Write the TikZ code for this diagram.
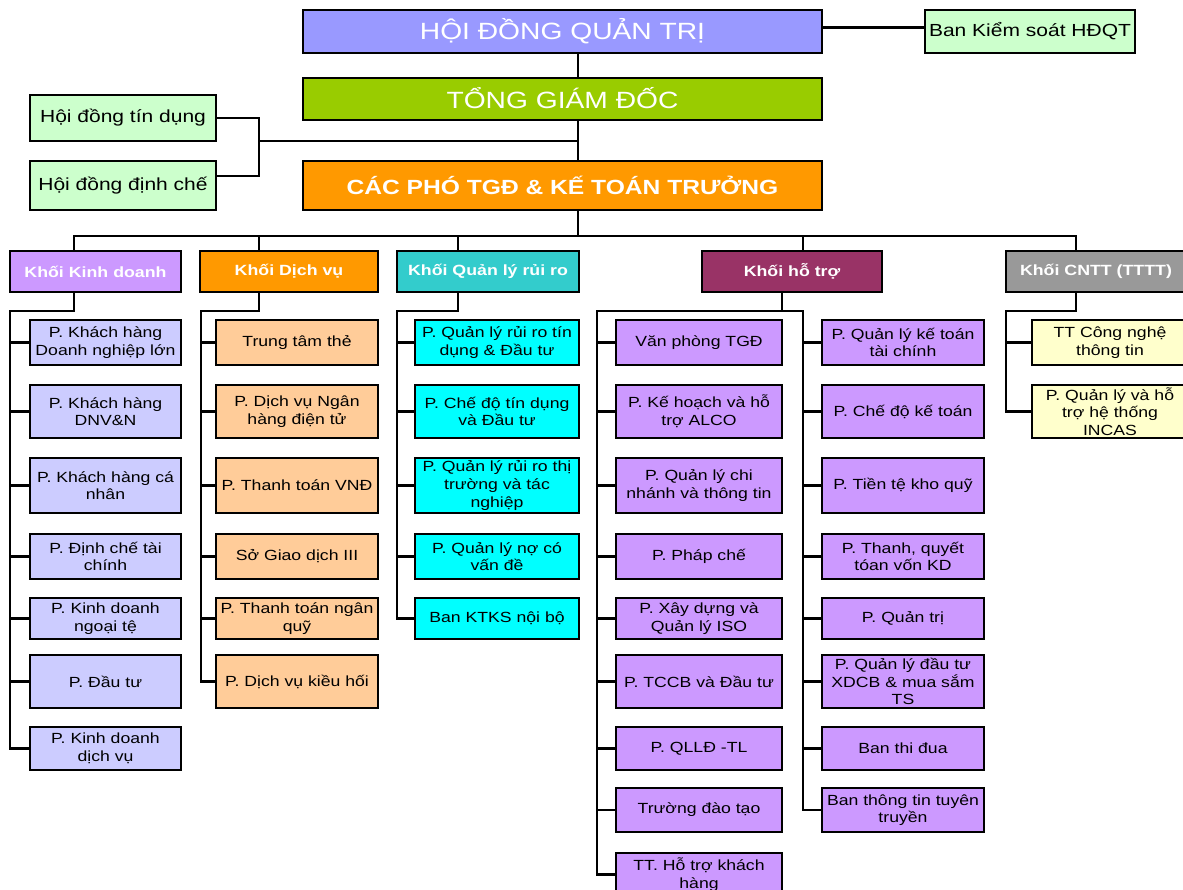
\documentclass[tikz,border=0pt]{standalone}
\usepackage{fontspec}
\setmainfont{Liberation Sans}[FakeStretch=1.2]
\usetikzlibrary{calc}

\definecolor{cHDQT}{HTML}{9999FF}
\definecolor{cTGD}{HTML}{99CC00}
\definecolor{cPTGD}{HTML}{FF9900}
\definecolor{sidegreen}{HTML}{CCFFCC}
\definecolor{kdHead}{HTML}{CC99FF}
\definecolor{kdKid}{HTML}{CCCCFF}
\definecolor{dvHead}{HTML}{FF9900}
\definecolor{dvKid}{HTML}{FFCC99}
\definecolor{rrHead}{HTML}{33CCCC}
\definecolor{rrKid}{HTML}{00FFFF}
\definecolor{htHead}{HTML}{993366}
\definecolor{htKid}{HTML}{CC99FF}
\definecolor{itHead}{HTML}{999999}
\definecolor{itKid}{HTML}{FFFFCC}

\tikzset{
  frame/.style={draw=black, line width=2.8pt, inner sep=0pt, align=center, text=black},
  link/.style={line width=2.7pt},
  topbox/.style={frame, text=white, font=\fontsize{23.5}{28}\selectfont},
  head/.style={frame, text=white, font=\bfseries\fontsize{14.8}{17.6}\selectfont},
  unit/.style={frame, font=\fontsize{14.7}{17.6}\selectfont},
  side/.style={frame, fill=sidegreen, font=\fontsize{17.5}{21}\selectfont},
}

% box from corner (x1,y1) to (x2,y2), in pixel units, y downwards
\newcommand{\boxat}[7]{%
  \node[#1, minimum width={#5-#3}, minimum height={#6-#4}] (#2)
    at ({(#3+#5)/2},{(#4+#6)/2}) {#7};}

\begin{document}
\begin{tikzpicture}[x=1pt, y=-1pt]
\useasboundingbox (0,0) rectangle (1183,890);
\fill[white] (0,0) rectangle (1183,890);
\clip (0,0) rectangle (1183,890);

% ---- top management ----
\boxat{topbox, fill=cHDQT}{hdqt}{303}{10}{822}{53}{HỘI ĐỒNG QUẢN TRỊ}
\boxat{side}{bks}{925}{10}{1135}{53}{Ban Kiểm soát HĐQT}
\boxat{topbox, fill=cTGD}{tgd}{303}{78}{822}{120}{\raisebox{2pt}{TỔNG GIÁM ĐỐC}}
\boxat{side}{hdtd}{30}{95}{216}{141}{Hội đồng tín dụng}
\boxat{side}{hddc}{30}{161}{216}{210}{Hội đồng định chế}
\boxat{topbox, fill=cPTGD, font=\bfseries\fontsize{20.5}{24}\selectfont}{pho}{303}{161}{822}{210}{CÁC PHÓ TGĐ \& KẾ TOÁN TRƯỞNG}

% ---- division headers ----
\boxat{head, fill=kdHead}{hKD}{10}{251}{181}{292}{Khối Kinh doanh}
\boxat{head, fill=dvHead}{hDV}{200}{251}{378}{292}{Khối Dịch vụ}
\boxat{head, fill=rrHead}{hRR}{397}{251}{579}{292}{Khối Quản lý rủi ro}
\boxat{head, fill=htHead}{hHT}{702}{251}{882}{292}{Khối hỗ trợ}
\boxat{head, fill=itHead}{hIT}{1006}{251}{1186}{292}{Khối CNTT (TTTT)}

% ---- Khối Kinh doanh ----
\boxat{unit, fill=kdKid}{kd1}{30}{320}{181}{365}{P. Khách hàng\\Doanh nghiệp lớn}
\boxat{unit, fill=kdKid}{kd2}{30}{385}{181}{438}{P. Khách hàng\\DNV\&N}
\boxat{unit, fill=kdKid}{kd3}{30}{458}{181}{513}{P. Khách hàng cá\\nhân}
\boxat{unit, fill=kdKid}{kd4}{30}{534}{181}{579}{P. Định chế tài\\chính}
\boxat{unit, fill=kdKid}{kd5}{30}{598}{181}{639}{P. Kinh doanh\\ngoại tệ}
\boxat{unit, fill=kdKid}{kd6}{30}{655}{181}{708}{P. Đầu tư}
\boxat{unit, fill=kdKid}{kd7}{30}{727}{181}{770}{P. Kinh doanh\\dịch vụ}

% ---- Khối Dịch vụ ----
\boxat{unit, fill=dvKid}{dv1}{216}{320}{378}{365}{Trung tâm thẻ}
\boxat{unit, fill=dvKid}{dv2}{216}{385}{378}{438}{P. Dịch vụ Ngân\\hàng điện tử}
\boxat{unit, fill=dvKid}{dv3}{216}{458}{378}{513}{P. Thanh toán VNĐ}
\boxat{unit, fill=dvKid}{dv4}{216}{534}{378}{579}{Sở Giao dịch III}
\boxat{unit, fill=dvKid}{dv5}{216}{598}{378}{639}{P. Thanh toán ngân\\quỹ}
\boxat{unit, fill=dvKid}{dv6}{216}{655}{378}{708}{P. Dịch vụ kiều hối}

% ---- Khối Quản lý rủi ro ----
\boxat{unit, fill=rrKid}{rr1}{415}{320}{579}{365}{P. Quản lý rủi ro tín\\dụng \& Đầu tư}
\boxat{unit, fill=rrKid}{rr2}{415}{385}{579}{438}{P. Chế độ tín dụng\\và Đầu tư}
\boxat{unit, fill=rrKid}{rr3}{415}{458}{579}{513}{P. Quản lý rủi ro thị\\trường và tác\\nghiệp}
\boxat{unit, fill=rrKid}{rr4}{415}{534}{579}{579}{P. Quản lý nợ có\\vấn đề}
\boxat{unit, fill=rrKid}{rr5}{415}{598}{579}{639}{Ban KTKS nội bộ}

% ---- Khối hỗ trợ, left column ----
\boxat{unit, fill=htKid}{hl1}{616}{320}{782}{365}{Văn phòng TGĐ}
\boxat{unit, fill=htKid}{hl2}{616}{385}{782}{438}{P. Kế hoạch và hỗ\\trợ ALCO}
\boxat{unit, fill=htKid}{hl3}{616}{458}{782}{513}{P. Quản lý chi\\nhánh và thông tin}
\boxat{unit, fill=htKid}{hl4}{616}{534}{782}{579}{P. Pháp chế}
\boxat{unit, fill=htKid}{hl5}{616}{598}{782}{639}{P. Xây dựng và\\Quản lý ISO}
\boxat{unit, fill=htKid}{hl6}{616}{655}{782}{708}{P. TCCB và Đầu tư}
\boxat{unit, fill=htKid}{hl7}{616}{727}{782}{770}{P. QLLĐ -TL}
\boxat{unit, fill=htKid}{hl8}{616}{788}{782}{832}{Trường đào tạo}
\boxat{unit, fill=htKid}{hl9}{616}{853}{782}{896}{TT. Hỗ trợ khách\\hàng}

% ---- Khối hỗ trợ, right column ----
\boxat{unit, fill=htKid}{hr1}{822}{320}{984}{365}{P. Quản lý kế toán\\tài chính}
\boxat{unit, fill=htKid}{hr2}{822}{385}{984}{438}{P. Chế độ kế toán}
\boxat{unit, fill=htKid}{hr3}{822}{458}{984}{513}{P. Tiền tệ kho quỹ}
\boxat{unit, fill=htKid}{hr4}{822}{534}{984}{579}{P. Thanh, quyết\\tóan vốn KD}
\boxat{unit, fill=htKid}{hr5}{822}{598}{984}{639}{P. Quản trị}
\boxat{unit, fill=htKid}{hr6}{822}{655}{984}{708}{P. Quản lý đầu tư\\XDCB \& mua sắm\\TS}
\boxat{unit, fill=htKid}{hr7}{822}{727}{984}{770}{Ban thi đua}
\boxat{unit, fill=htKid}{hr8}{822}{788}{984}{832}{Ban thông tin tuyên\\truyền}

% ---- Khối CNTT ----
\boxat{unit, fill=itKid}{it1}{1032}{320}{1188}{365}{TT Công nghệ\\thông tin}
\boxat{unit, fill=itKid}{it2}{1032}{385}{1188}{438}{P. Quản lý và hỗ\\trợ hệ thống\\INCAS}

% ---- connectors: top ----
\coordinate (sp) at (578,236);
\coordinate (bk) at (259,141);
\draw[link] (hdqt.south -| sp) -- (tgd.north -| sp);
\draw[link] (tgd.south -| sp) -- (pho.north -| sp);
\draw[link] (pho.south -| sp) -- (sp);
\draw[link] ([yshift=4pt]hdqt.east) -- ([yshift=4pt]bks.west);
\draw[link] (hdtd.east) -| (bk);
\draw[link] ([yshift=9.5pt]hddc.east) -| (bk);
\draw[link] (bk) -- (sp |- bk);

% ---- bus to the divisions ----
\coordinate (dKD) at (74,236);
\coordinate (dDV) at (259,236);
\coordinate (dRR) at (458,236);
\coordinate (dHT) at (803,236);
\coordinate (dIT) at (1076,236);
\draw[link] (hKD.north -| dKD) |- (dIT) -- (dIT |- hIT.north);
\draw[link] (dDV) -- (dDV |- hDV.north);
\draw[link] (dRR) -- (dRR |- hRR.north);
\draw[link] (dHT) -- (dHT |- hHT.north);

% ---- trunks under each division ----
\coordinate (tKD) at (10,311);
\coordinate (tDV) at (201,311);
\coordinate (tRR) at (397,311);
\coordinate (jHT) at (782,311);
\coordinate (tHL) at (597,311);
\coordinate (tHR) at (803,311);
\coordinate (tIT) at (1006,311);

\draw[link] (hKD.south -| dKD) |- (tKD) |- (kd7.west);
\foreach \n in {kd1,kd2,kd3,kd4,kd5,kd6} \draw[link] (tKD |- \n.west) -- (\n.west);

\draw[link] (hDV.south -| dDV) |- (tDV) |- (dv6.west);
\foreach \n in {dv1,dv2,dv3,dv4,dv5} \draw[link] (tDV |- \n.west) -- (\n.west);

\draw[link] (hRR.south -| dRR) |- (tRR) |- (rr5.west);
\foreach \n in {rr1,rr2,rr3,rr4} \draw[link] (tRR |- \n.west) -- (\n.west);

\draw[link] (hHT.south -| jHT) -- (jHT);
\draw[link] (hl9.west) -| (tHL) -- (tHR) |- (hr8.west);
\foreach \n in {hl1,hl2,hl3,hl4,hl5,hl6,hl7,hl8} \draw[link] (tHL |- \n.west) -- (\n.west);
\foreach \n in {hr1,hr2,hr3,hr4,hr5,hr6,hr7} \draw[link] (tHR |- \n.west) -- (\n.west);

\draw[link] (hIT.south -| dIT) |- (tIT) |- (it2.west);
\draw[link] (tIT |- it1.west) -- (it1.west);
\end{tikzpicture}
\end{document}
